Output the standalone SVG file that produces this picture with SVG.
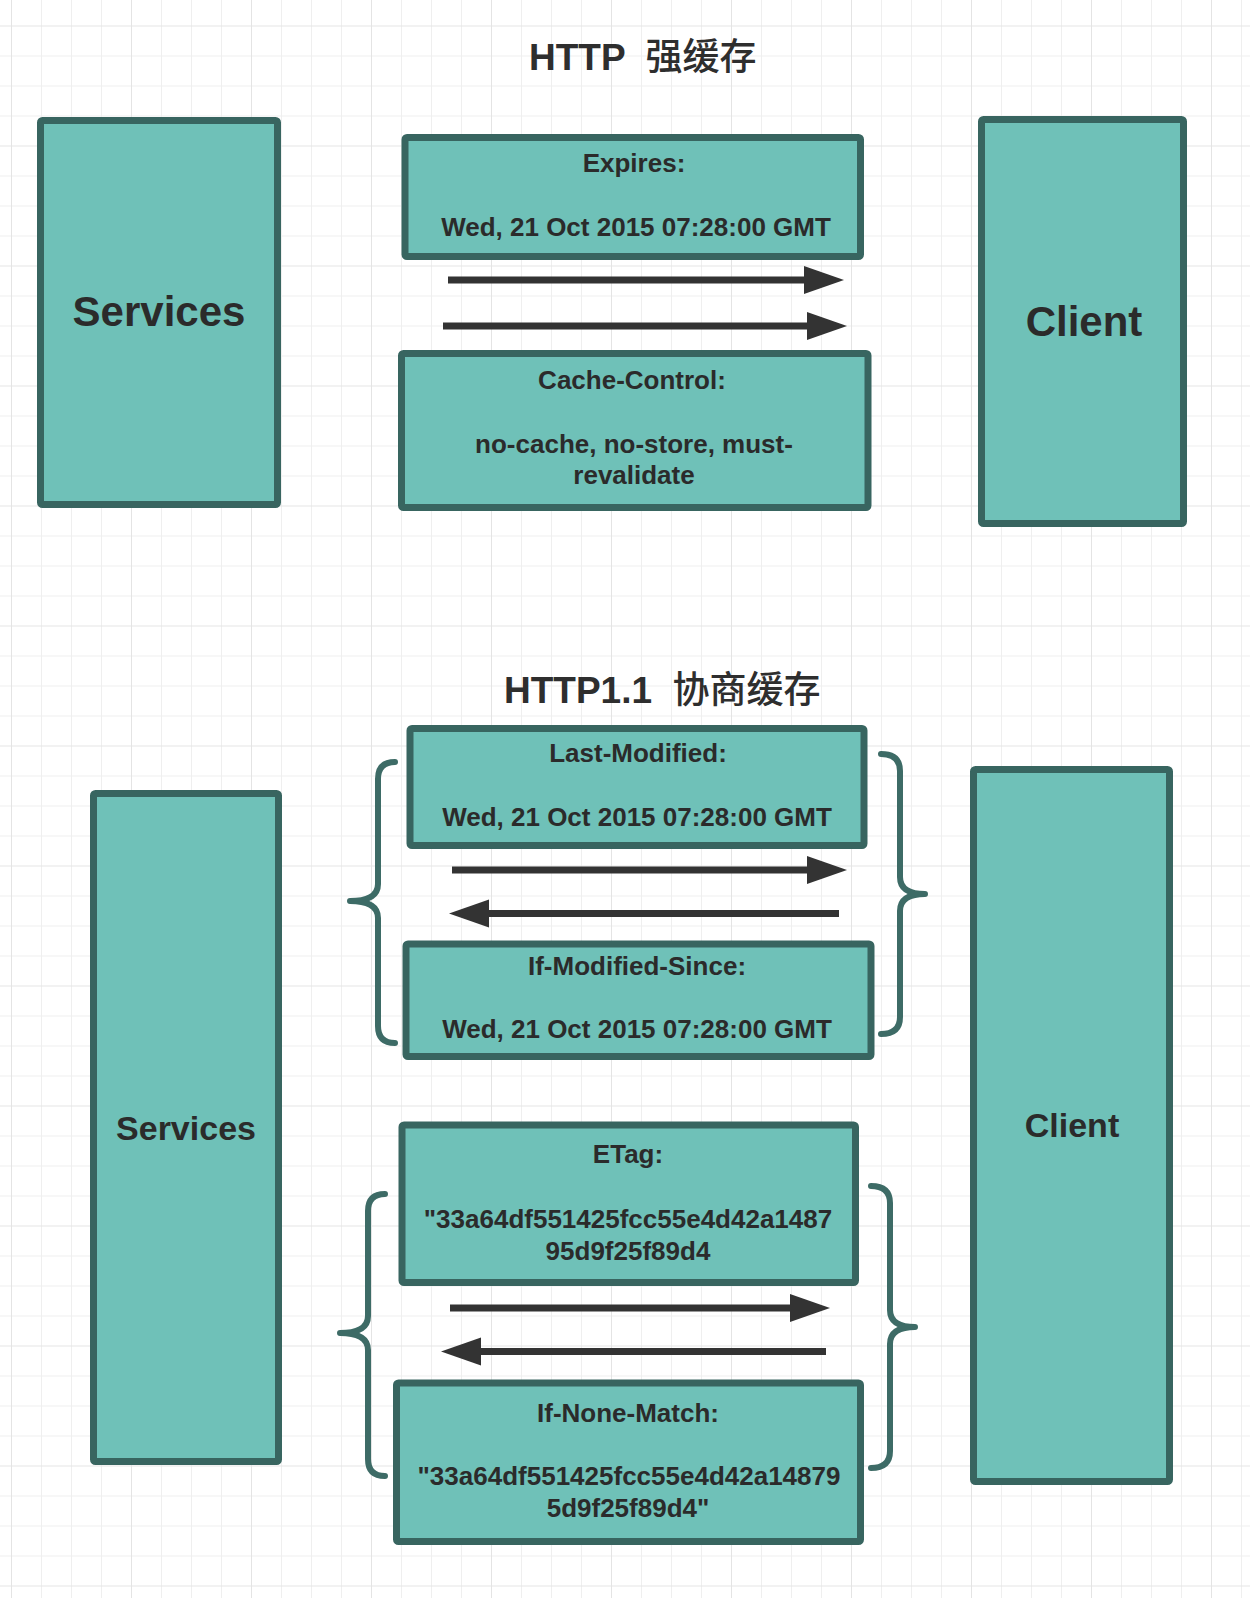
<svg xmlns="http://www.w3.org/2000/svg" width="1250" height="1598" viewBox="0 0 1250 1598">
<defs>
<pattern id="grid" patternUnits="userSpaceOnUse" x="11" y="25.5" width="120" height="120">
<rect x="0" y="0" width="120" height="120" fill="#ffffff"/>
<rect x="30" y="0" width="1" height="120" fill="#efefef"/>
<rect x="60" y="0" width="1" height="120" fill="#efefef"/>
<rect x="90" y="0" width="1" height="120" fill="#efefef"/>
<rect x="0" y="30" width="120" height="1" fill="#efefef"/>
<rect x="0" y="60" width="120" height="1" fill="#efefef"/>
<rect x="0" y="90" width="120" height="1" fill="#efefef"/>
<rect x="0" y="0" width="1" height="120" fill="#e4e4e4"/>
<rect x="0" y="0" width="120" height="1" fill="#e4e4e4"/>
</pattern>
<marker id="head" markerUnits="userSpaceOnUse" markerWidth="42" markerHeight="30" refX="0" refY="14" orient="auto">
<path d="M0,0 L40,14 L0,28 Z" fill="#333333"/>
</marker>
<style>
.box{fill:#6fc1b8;stroke:#386560;stroke-width:7;}
.t{font-family:"Liberation Sans",Arial,Helvetica,sans-serif;font-weight:bold;fill:#2b2b2b;text-anchor:middle;}
.s{font-size:26px;}
.big{font-size:42px;}
.mid{font-size:34px;}
.title{font-family:"Liberation Sans","Noto Sans CJK SC",sans-serif;font-weight:bold;font-size:37px;fill:#2e2e2e;white-space:pre;}
.cjk{font-family:"Noto Sans CJK SC",sans-serif;font-weight:500;}
.arrow{stroke:#333333;stroke-width:7;fill:none;marker-end:url(#head);}
.brace{stroke:#3d6b66;stroke-width:6;fill:none;stroke-linecap:round;stroke-linejoin:round;}
</style>
</defs>
<rect x="0" y="0" width="1250" height="1598" fill="url(#grid)"/>

<text id="title1" class="title" x="529" y="70">HTTP  <tspan class="cjk">强缓存</tspan></text>
<text id="title2" class="title" x="504" y="703">HTTP1.1  <tspan class="cjk">协商缓存</tspan></text>

<g id="services-top">
<rect class="box" x="40.5" y="120.5" width="237" height="384" rx="2"/>
<text class="t big" x="159" y="326">Services</text>
</g>
<g id="client-top">
<rect class="box" x="981.5" y="119.5" width="202" height="404" rx="2"/>
<text class="t big" x="1084" y="336">Client</text>
</g>
<g id="expires">
<rect class="box" x="405" y="137.5" width="455.5" height="119" rx="2"/>
<text class="t s" x="634" y="172">Expires:</text>
<text class="t s" x="636" y="236">Wed, 21 Oct 2015 07:28:00 GMT</text>
</g>
<g id="cache-control">
<rect class="box" x="401.5" y="353.5" width="466.5" height="154" rx="2"/>
<text class="t s" x="632" y="389">Cache-Control:</text>
<text class="t s" x="634" y="453">no-cache, no-store, must-</text>
<text class="t s" x="634" y="484">revalidate</text>
</g>

<g id="services-bottom">
<rect class="box" x="93.5" y="793.5" width="185" height="668" rx="2"/>
<text class="t mid" x="186" y="1140">Services</text>
</g>
<g id="client-bottom">
<rect class="box" x="973.5" y="769.5" width="196" height="712" rx="2"/>
<text class="t mid" x="1072" y="1137">Client</text>
</g>
<g id="last-modified">
<rect class="box" x="410" y="728.5" width="454" height="117" rx="2"/>
<text class="t s" x="638" y="762">Last-Modified:</text>
<text class="t s" x="637" y="826">Wed, 21 Oct 2015 07:28:00 GMT</text>
</g>
<g id="if-modified-since">
<rect class="box" x="406" y="944" width="465" height="112.5" rx="2"/>
<text class="t s" x="637" y="975">If-Modified-Since:</text>
<text class="t s" x="637" y="1038">Wed, 21 Oct 2015 07:28:00 GMT</text>
</g>
<g id="etag">
<rect class="box" x="402" y="1125" width="453.5" height="157.5" rx="2"/>
<text class="t s" x="628" y="1163">ETag:</text>
<text class="t s" x="628" y="1228">"33a64df551425fcc55e4d42a1487</text>
<text class="t s" x="628" y="1260">95d9f25f89d4</text>
</g>
<g id="if-none-match">
<rect class="box" x="396.5" y="1383" width="464" height="158.5" rx="2"/>
<text class="t s" x="628" y="1422">If-None-Match:</text>
<text class="t s" x="629" y="1485">"33a64df551425fcc55e4d42a14879</text>
<text class="t s" x="628" y="1517">5d9f25f89d4"</text>
</g>

<g id="connectors">
<line class="arrow" x1="448" y1="280" x2="804" y2="280"/>
<line class="arrow" x1="443" y1="326" x2="807" y2="326"/>
<line class="arrow" x1="452" y1="870" x2="807" y2="870"/>
<line class="arrow" x1="839" y1="913.5" x2="489" y2="913.5"/>
<line class="arrow" x1="450" y1="1308" x2="790" y2="1308"/>
<line class="arrow" x1="826" y1="1351.5" x2="481" y2="1351.5"/>
<path class="brace" d="M395,762 Q378,762 378,779 L378,884 Q378,901 350,901 Q378,901 378,918 L378,1026 Q378,1043 395,1043"/>
<path class="brace" d="M881,754 Q900,754 900,771 L900,877 Q900,894 925,894 Q900,894 900,911 L900,1017 Q900,1034 881,1034"/>
<path class="brace" d="M385,1194 Q368,1194 368,1211 L368,1316 Q368,1333 340,1333 Q368,1333 368,1350 L368,1459 Q368,1476 385,1476"/>
<path class="brace" d="M871,1186 Q890,1186 890,1203 L890,1310 Q890,1327 915,1327 Q890,1327 890,1344 L890,1451 Q890,1468 871,1468"/>
</g>
</svg>
